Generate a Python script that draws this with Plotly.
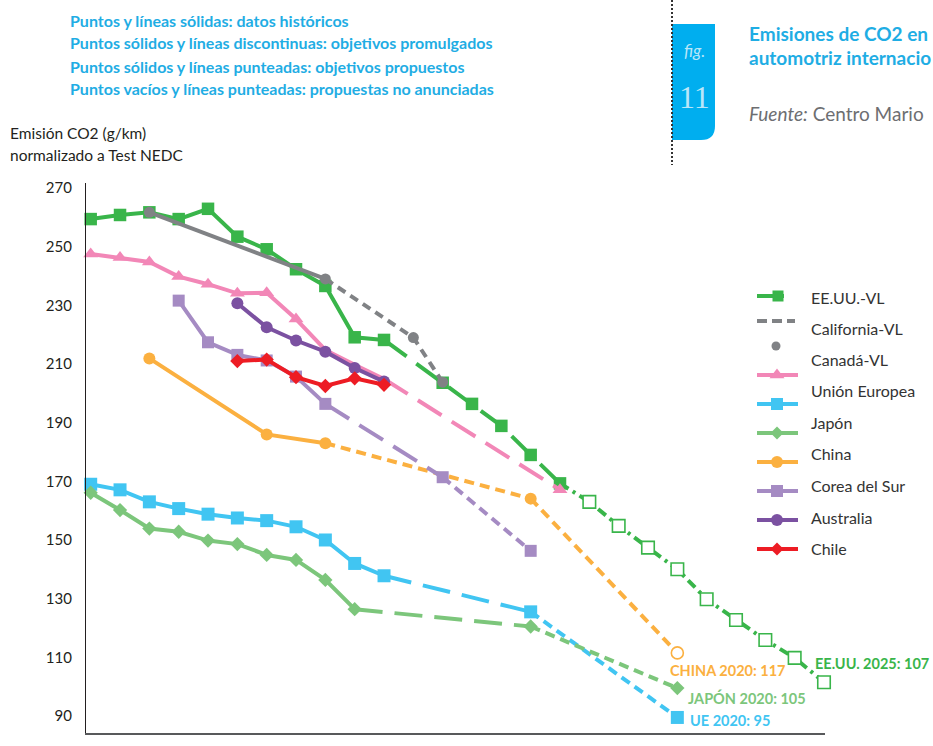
import plotly.graph_objects as go

# ---------------- data: CO2 emissions, g/km normalised to NEDC ----------------
us_hist_years = list(range(2000, 2011))
us_hist = [264.9, 266.3, 267.2, 264.9, 268.4, 258.9, 254.6, 247.8, 242.1, 224.6, 223.7]
us_prom_years = [2012, 2013, 2014, 2015, 2016]
us_prom = [209.1, 201.9, 194.4, 184.5, 174.8]
us_unann_years = list(range(2017, 2026))
us_unann = [168.5, 160.3, 152.9, 145.5, 135.3, 128.2, 121.4, 115.3, 107]

california_hist_years = [2002, 2008]
california_hist = [267.2, 244.5]
california_prom_years = [2011, 2012]
california_prom = [224.5, 209.3]

canada_years = [2002, 2008, 2011, 2012]
canada = [267.2, 244.5, 224.5, 209.3]

pink_marked_years = list(range(2000, 2008))
pink_marked = [253.0, 251.8, 250.3, 245.3, 242.7, 239.6, 239.8, 230.8]
pink_tail_years = [2008, 2009, 2010]
pink_tail = [220.3, 215.2, 210.4]
pink_prom_years = [2016]
pink_prom = [172.6]

eu_hist_years = list(range(2000, 2011))
eu_hist = [174.5, 172.6, 168.5, 166.2, 164.3, 163.0, 162.1, 160.0, 155.5, 147.5, 143.3]
eu_prom_years = [2015]
eu_prom = [131.0]
eu_prop_years = [2020]
eu_prop = [95]

jp_hist_years = list(range(2000, 2010))
jp_hist = [171.6, 165.7, 159.4, 158.3, 155.3, 154.1, 150.4, 148.7, 141.9, 131.9]
jp_prom_years = [2015]
jp_prom = [126.0]
jp_prop_years = [2020]
jp_prop = [105]

cn_hist_years = [2002, 2006, 2008]
cn_hist = [217.4, 191.5, 188.5]
cn_prop_years = [2015]
cn_prop = [169.6]
cn_unann_years = [2020]
cn_unann = [117]

kr_hist_years = list(range(2003, 2009))
kr_hist = [237.1, 222.9, 218.6, 216.7, 211.2, 201.9]
kr_prom_years = [2012]
kr_prom = [176.9]
kr_prop_years = [2015]
kr_prop = [151.8]

au_years = list(range(2005, 2011))
au_hist = [236.2, 228.0, 223.5, 219.7, 214.1, 209.5]

cl_years = list(range(2005, 2011))
cl_hist = [216.5, 217.0, 211.0, 208.0, 210.6, 208.4]

legend_labels = ["EE.UU.-VL", "California-VL", "Canadá-VL", "Unión Europea", "Japón",
                 "China", "Corea del Sur", "Australia", "Chile"]

y_ticks = [270, 250, 230, 210, 190, 170, 150, 130, 110, 90]

# ---------------- styles ----------------
FONT = "Lato"
US_GREEN = "#39b54a"
GRAY = "#808285"
PINK = "#f287b7"
EU_BLUE = "#41c5f2"
JP_GREEN = "#7cc67b"
CN_ORANGE = "#fbb040"
KR_PURPLE = "#a58bc3"
AU_PURPLE = "#7b51a1"
CL_RED = "#ed1c24"
CYAN = "#1fade4"
BOX = "#00aeef"
DARK = "#231f20"

SOLID = "solid"
LONG = "28px,12px"      # enacted targets
SHORT = "10px,6px"      # proposed targets
DASHDOT = "10px,5px,3px,5px"
GRAYDASH = "9px,6px"
LW = 4

fig = go.Figure()


def add_series(stages, color, symbol, size, draw_lines=True, draw_markers=True):
    """stages: list of (years, values, dash, marker) where marker is 'filled', 'open' or None."""
    prev = None
    if draw_lines:
        for years, vals, dash, _ in stages:
            xs = ([prev[0]] if prev else []) + list(years)
            ys = ([prev[1]] if prev else []) + list(vals)
            if len(xs) > 1:
                fig.add_trace(go.Scatter(
                    x=xs, y=ys, mode="lines", showlegend=False, hoverinfo="skip",
                    line=dict(color=color, width=LW, dash=dash), cliponaxis=False))
            prev = (years[-1], vals[-1])
    if draw_markers:
        for years, vals, _, marker in stages:
            if marker is None:
                continue
            filled = marker == "filled"
            fig.add_trace(go.Scatter(
                x=list(years), y=list(vals), mode="markers", showlegend=False,
                cliponaxis=False,
                marker=dict(symbol=symbol, size=size,
                            color=color if filled else "white",
                            line=dict(color=color, width=0 if filled else 1.6))))


add_series([(us_hist_years, us_hist, SOLID, "filled"),
            (us_prom_years, us_prom, LONG, "filled"),
            (us_unann_years, us_unann, DASHDOT, "open")], US_GREEN, "square", 12.5)
add_series([(california_hist_years, california_hist, SOLID, None),
            (california_prom_years, california_prom, GRAYDASH, None)], GRAY, "circle", 11,
           draw_markers=False)
add_series([(canada_years, canada, SOLID, "filled")], GRAY, "circle", 11, draw_lines=False)
add_series([(pink_marked_years, pink_marked, SOLID, "filled"),
            (pink_tail_years, pink_tail, SOLID, None),
            (pink_prom_years, pink_prom, LONG, "filled")], PINK, "triangle-up", 13)
add_series([(eu_hist_years, eu_hist, SOLID, "filled"),
            (eu_prom_years, eu_prom, LONG, "filled"),
            (eu_prop_years, eu_prop, SHORT, "filled")], EU_BLUE, "square", 13)
add_series([(jp_hist_years, jp_hist, SOLID, "filled"),
            (jp_prom_years, jp_prom, LONG, "filled"),
            (jp_prop_years, jp_prop, SHORT, "filled")], JP_GREEN, "diamond", 11)
add_series([(cn_hist_years, cn_hist, SOLID, "filled"),
            (cn_prop_years, cn_prop, SHORT, "filled"),
            (cn_unann_years, cn_unann, SHORT, "open")], CN_ORANGE, "circle", 12)
add_series([(kr_hist_years, kr_hist, SOLID, "filled"),
            (kr_prom_years, kr_prom, LONG, "filled"),
            (kr_prop_years, kr_prop, SHORT, "filled")], KR_PURPLE, "square", 12)
add_series([(au_years, au_hist, SOLID, "filled")], AU_PURPLE, "circle", 12)
add_series([(cl_years, cl_hist, SOLID, "filled")], CL_RED, "diamond", 11)

# ---------------- end-point labels ----------------
end_labels = [
    (cn_unann_years[-1], cn_unann[-1], f"CHINA {cn_unann_years[-1]}: {cn_unann[-1]}", CN_ORANGE, -9, -18),
    (jp_prop_years[-1], jp_prop[-1], f"JAPÓN {jp_prop_years[-1]}: {jp_prop[-1]}", JP_GREEN, 9, -10),
    (eu_prop_years[-1], eu_prop[-1], f"UE {eu_prop_years[-1]}: {eu_prop[-1]}", EU_BLUE, 11, -3),
    (us_unann_years[-1], us_unann[-1], f"EE.UU. {us_unann_years[-1]}: {us_unann[-1]}", US_GREEN, -11, 19),
]
for x, y, text, color, dx, dy in end_labels:
    fig.add_annotation(x=x, y=y, xref="x", yref="y", text=f"<b>{text}</b>", showarrow=False,
                       xanchor="left", yanchor="middle", xshift=dx, yshift=dy,
                       font=dict(family=FONT, size=14.5, color=color))

# ---------------- page geometry helpers (pixels -> paper) ----------------
PL, PR, PT, PB = 86, 825, 183, 733


def px(x):
    return (x - PL) / (PR - PL)


def py(y):
    return (PB - y) / (PB - PT)


# ---------------- legend (hand-built glyph column + label column) ----------------
glyph_rows = [
    dict(y=296, color=US_GREEN, dash=SOLID, x0=757, x1=784, symbol="square", size=11, mx=778),
    dict(y=321, color=GRAY, dash="10px,5px", x0=757, x1=795, symbol=None),
    dict(y=346, color=GRAY, dash=None, symbol="circle", size=9, mx=776),
    dict(y=375, color=PINK, dash=SOLID, x0=757, x1=798, symbol="triangle-up", size=13, mx=777),
    dict(y=404, color=EU_BLUE, dash=SOLID, x0=757, x1=798, symbol="square", size=12, mx=777),
    dict(y=433, color=JP_GREEN, dash=SOLID, x0=757, x1=798, symbol="diamond", size=10, mx=777),
    dict(y=462, color=CN_ORANGE, dash=SOLID, x0=757, x1=798, symbol="circle", size=12, mx=777),
    dict(y=491, color=KR_PURPLE, dash=SOLID, x0=757, x1=798, symbol="square", size=12, mx=777),
    dict(y=520, color=AU_PURPLE, dash=SOLID, x0=757, x1=798, symbol="circle", size=12, mx=777),
    dict(y=549, color=CL_RED, dash=SOLID, x0=757, x1=798, symbol="diamond", size=10, mx=777),
]
for g in glyph_rows:
    if g.get("dash"):
        fig.add_trace(go.Scatter(x=[g["x0"], g["x1"]], y=[g["y"], g["y"]], mode="lines",
                                 xaxis="x2", yaxis="y2", showlegend=False, hoverinfo="skip",
                                 line=dict(color=g["color"], width=LW, dash=g["dash"])))
    if g.get("symbol"):
        fig.add_trace(go.Scatter(x=[g["mx"]], y=[g["y"]], mode="markers", xaxis="x2", yaxis="y2",
                                 showlegend=False, hoverinfo="skip",
                                 marker=dict(symbol=g["symbol"], size=g["size"], color=g["color"])))

label_rows_y = [297, 328, 359, 390, 422, 453.5, 485, 517, 548]
for label, ly in zip(legend_labels, label_rows_y):
    fig.add_annotation(x=809, y=ly, xref="x2", yref="y2", text=label, showarrow=False,
                       xanchor="left", yanchor="middle",
                       font=dict(family=FONT, size=16, color="#333333"))

# ---------------- header ----------------
notes = ["Puntos y líneas sólidas: datos históricos",
         "Puntos sólidos y líneas discontinuas: objetivos promulgados",
         "Puntos sólidos y líneas punteadas: objetivos propuestos",
         "Puntos vacíos y líneas punteadas: propuestas no anunciadas"]
for text, ny in zip(notes, [20, 43, 66, 88]):
    fig.add_annotation(x=px(68), y=py(ny), xref="paper", yref="paper", text=f"<b>{text}</b>",
                       showarrow=False, xanchor="left", yanchor="middle",
                       font=dict(family=FONT, size=16, color=CYAN))

fig.add_annotation(x=px(747), y=py(33), xref="paper", yref="paper",
                   text="<b>Emisiones de CO2 en</b>", showarrow=False,
                   xanchor="left", yanchor="middle", font=dict(family=FONT, size=19, color=CYAN))
fig.add_annotation(x=px(747), y=py(58), xref="paper", yref="paper",
                   text="<b>automotriz internacio</b>", showarrow=False,
                   xanchor="left", yanchor="middle", font=dict(family=FONT, size=19, color=CYAN))
fig.add_annotation(x=px(747), y=py(113), xref="paper", yref="paper",
                   text="<i>Fuente:</i> Centro Mario", showarrow=False,
                   xanchor="left", yanchor="middle", font=dict(family=FONT, size=19, color="#6d6e71"))

# figure tab with a rounded lower-right corner
bx0, bx1, by0, by1, rad = 672, 715, 24, 140, 14
tab_path = (f"M {px(bx0)},{py(by0)} L {px(bx1)},{py(by0)} L {px(bx1)},{py(by1 - rad)} "
            f"Q {px(bx1)},{py(by1)} {px(bx1 - rad)},{py(by1)} L {px(bx0)},{py(by1)} Z")
fig.add_shape(type="path", path=tab_path, xref="paper", yref="paper",
              fillcolor=BOX, line=dict(width=0), layer="above")
fig.add_shape(type="line", x0=px(672), x1=px(672), y0=py(0), y1=py(165), xref="paper", yref="paper",
              line=dict(color="#333333", width=2, dash="2px,2px"), layer="above")
fig.add_annotation(x=px(694), y=py(50), xref="paper", yref="paper", text="<i>fig.</i>",
                   showarrow=False, xanchor="center", yanchor="middle",
                   font=dict(family=FONT, size=17, color="#b9e6f9"))
fig.add_annotation(x=px(694), y=py(97), xref="paper", yref="paper", text="11",
                   showarrow=False, xanchor="center", yanchor="middle",
                   font=dict(family="Liberation Serif", size=32, color="#b9e6f9"))

# axis title
fig.add_annotation(x=px(8), y=py(133), xref="paper", yref="paper", text="Emisión CO2 (g/km)",
                   showarrow=False, xanchor="left", yanchor="middle",
                   font=dict(family=FONT, size=15.5, color=DARK))
fig.add_annotation(x=px(8), y=py(155), xref="paper", yref="paper", text="normalizado a Test NEDC",
                   showarrow=False, xanchor="left", yanchor="middle",
                   font=dict(family=FONT, size=15.5, color=DARK))

# ---------------- layout ----------------
fig.update_layout(
    width=933, height=746,
    margin=dict(l=PL, r=933 - PR, t=PT, b=746 - PB, pad=0),
    paper_bgcolor="white", plot_bgcolor="white",
    showlegend=False,
    xaxis=dict(range=[1999.84, 2025.034], showgrid=False, zeroline=False, showticklabels=False,
               ticks="", showline=True, linecolor="#58595b", linewidth=2),
    yaxis=dict(range=[89.7, 277.2], showgrid=False, zeroline=False, tickvals=y_ticks,
               ticks="", showline=True, linecolor=DARK, linewidth=1.2,
               ticklabelshift=-16, ticklabelstandoff=10,
               tickfont=dict(family=FONT, size=15, color=DARK)),
    xaxis2=dict(overlaying="x", range=[PL, PR], visible=False, fixedrange=True),
    yaxis2=dict(overlaying="y", range=[PB, PT], visible=False, fixedrange=True),
)

fig.write_html("out.html")
